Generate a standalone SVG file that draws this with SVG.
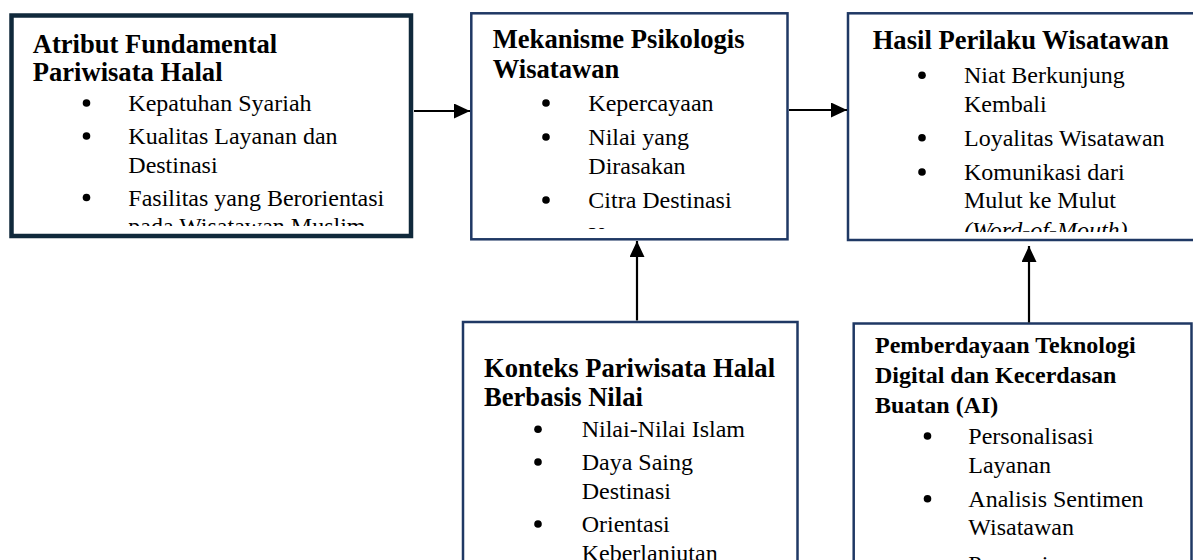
<svg xmlns="http://www.w3.org/2000/svg" width="1193" height="560" viewBox="0 0 1193 560">
<style>
.bx{fill:#fff;stroke:#1f3864;stroke-width:2.5}
.bx1{fill:#fff;stroke:#10293b;stroke-width:4.5}
.t{font-family:"Liberation Serif","Times New Roman",serif;font-weight:bold;font-size:26.6px;fill:#000}
.t2{font-family:"Liberation Serif","Times New Roman",serif;font-weight:bold;font-size:24px;fill:#000}
.b{font-family:"Liberation Serif","Times New Roman",serif;font-size:24px;fill:#000}
.i{font-style:italic}
.c{stroke:#000;stroke-width:2.2;fill:none}
circle{fill:#000}
</style>
<defs>
<marker id="ah" markerUnits="userSpaceOnUse" markerWidth="16" markerHeight="15" refX="16" refY="7.5" orient="auto">
<path d="M0,0 L16,7.5 L0,15 z" fill="#000"/>
</marker>
<clipPath id="c1"><rect x="14" y="18" width="395" height="208"/></clipPath>
<clipPath id="c2"><rect x="473" y="15" width="313" height="214"/></clipPath>
<clipPath id="c3"><rect x="850" y="15" width="343" height="217"/></clipPath>
</defs>
<g id="node-atribut">
<rect class="bx1" x="11.5" y="15.5" width="399.5" height="220.5"/>
<g clip-path="url(#c1)">
<text class="t" x="32.7" y="52.7">Atribut Fundamental</text>
<text class="t" x="32.7" y="81">Pariwisata Halal</text>
<circle cx="86.5" cy="103" r="3.8"/>
<text class="b" x="128.3" y="111">Kepatuhan Syariah</text>
<circle cx="86.5" cy="136" r="3.8"/>
<text class="b" x="128.3" y="144">Kualitas Layanan dan</text>
<text class="b" x="128.3" y="172.5">Destinasi</text>
<circle cx="86.5" cy="197.5" r="3.8"/>
<text class="b" x="128.3" y="205.5">Fasilitas yang Berorientasi</text>
<text class="b" x="128.3" y="234">pada Wisatawan Muslim</text>
</g>
</g>
<g id="node-mekanisme">
<rect class="bx" x="471.3" y="13.3" width="316.2" height="226"/>
<g clip-path="url(#c2)">
<text class="t" x="492.7" y="48.3">Mekanisme Psikologis</text>
<text class="t" x="492.7" y="78.3">Wisatawan</text>
<circle cx="546" cy="103" r="3.8"/>
<text class="b" x="588.3" y="111">Kepercayaan</text>
<circle cx="546" cy="137" r="3.8"/>
<text class="b" x="588.3" y="145">Nilai yang</text>
<text class="b" x="588.3" y="174">Dirasakan</text>
<circle cx="546" cy="200" r="3.8"/>
<text class="b" x="588.3" y="208">Citra Destinasi</text>
<circle cx="546" cy="235" r="3.8"/>
<text class="b" x="588.3" y="243">Kepuasan</text>
</g>
</g>
<g id="node-hasil">
<rect class="bx" x="848" y="13.3" width="360" height="226.7"/>
<g clip-path="url(#c3)">
<text class="t" x="872.7" y="49.3">Hasil Perilaku Wisatawan</text>
<circle cx="922" cy="75.3" r="3.8"/>
<text class="b" x="964" y="83.3">Niat Berkunjung</text>
<text class="b" x="964" y="111.7">Kembali</text>
<circle cx="922" cy="137.7" r="3.8"/>
<text class="b" x="964" y="145.7">Loyalitas Wisatawan</text>
<circle cx="922" cy="172" r="3.8"/>
<text class="b" x="964" y="180">Komunikasi dari</text>
<text class="b" x="964" y="208.3">Mulut ke Mulut</text>
<text class="b i" x="964" y="238">(Word-of-Mouth)</text>
</g>
</g>
<g id="node-konteks">
<rect class="bx" x="463" y="322" width="334.5" height="260"/>
<text class="t" x="484" y="377.3">Konteks Pariwisata Halal</text>
<text class="t" x="484" y="406">Berbasis Nilai</text>
<circle cx="538" cy="429.3" r="3.8"/>
<text class="b" x="581.7" y="437.3">Nilai-Nilai Islam</text>
<circle cx="538" cy="462" r="3.8"/>
<text class="b" x="581.7" y="470">Daya Saing</text>
<text class="b" x="581.7" y="499.3">Destinasi</text>
<circle cx="538" cy="524" r="3.8"/>
<text class="b" x="581.7" y="532">Orientasi</text>
<text class="b" x="581.7" y="560.5">Keberlanjutan</text>
</g>
<g id="node-teknologi">
<rect class="bx" x="853.7" y="323.5" width="337.8" height="260"/>
<text class="t2" x="875" y="352.7">Pemberdayaan Teknologi</text>
<text class="t2" x="875" y="382.7">Digital dan Kecerdasan</text>
<text class="t2" x="875" y="412.7">Buatan (AI)</text>
<circle cx="927.5" cy="436" r="3.8"/>
<text class="b" x="968.3" y="444">Personalisasi</text>
<text class="b" x="968.3" y="472.7">Layanan</text>
<circle cx="927.5" cy="498.7" r="3.8"/>
<text class="b" x="968.3" y="506.7">Analisis Sentimen</text>
<text class="b" x="968.3" y="535">Wisatawan</text>
<text class="b" x="968.3" y="572">Promosi</text>
</g>
<g id="connectors">
<line class="c" x1="414" y1="111" x2="470" y2="111" marker-end="url(#ah)"/>
<line class="c" x1="789" y1="110" x2="847" y2="110" marker-end="url(#ah)"/>
<line class="c" x1="637" y1="320.5" x2="637" y2="241" marker-end="url(#ah)"/>
<line class="c" x1="1029" y1="322.5" x2="1029" y2="246" marker-end="url(#ah)"/>
</g>
</svg>
